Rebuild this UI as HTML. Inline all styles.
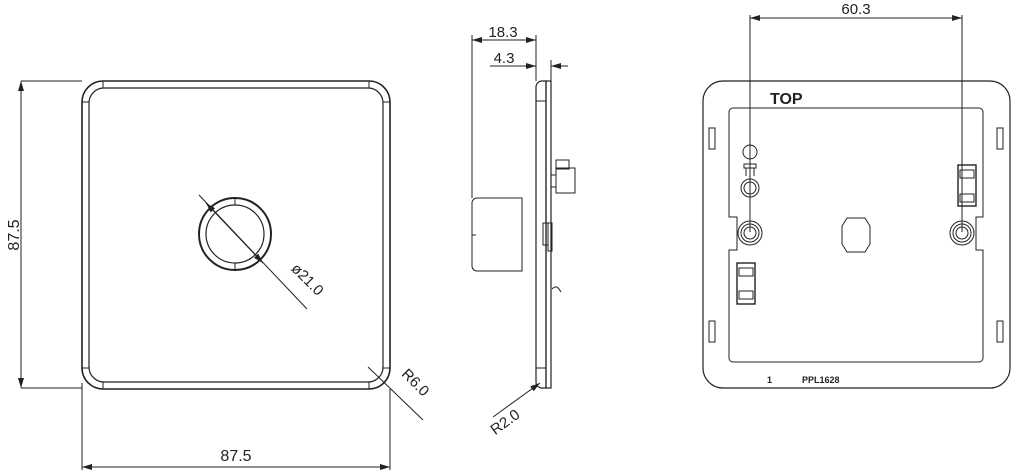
<!DOCTYPE html>
<html><head><meta charset="utf-8"><style>
html,body{margin:0;padding:0;background:#fff;width:1018px;height:472px;overflow:hidden}
text{font-family:"Liberation Sans",sans-serif;fill:#222}
</style></head><body>
<svg width="1018" height="472" viewBox="0 0 1018 472" xmlns="http://www.w3.org/2000/svg">
<defs><marker id="a" viewBox="0 0 10 6" refX="10" refY="3" markerWidth="10" markerHeight="6" orient="auto-start-reverse" markerUnits="userSpaceOnUse"><path d="M0,0L10,3L0,6z" fill="#222"/></marker></defs>
<g stroke="#222" fill="none" stroke-width="1">
<rect x="82" y="81" width="308" height="308" rx="21" stroke-width="1.6"/>
<rect x="89" y="88" width="294" height="294" rx="15" stroke-width="1.2"/>
<path d="M103,81v7M369,81v7M103,382v7M369,382v7M82,102h7M383,102h7M82,368h7M383,368h7"/>
<line x1="21" y1="81" x2="21" y2="388" marker-start="url(#a)" marker-end="url(#a)"/>
<path d="M21,81H82M21,388H82M82,383V470M390,389V470"/>
<line x1="82" y1="467" x2="390" y2="467" marker-start="url(#a)" marker-end="url(#a)"/>
<circle cx="235" cy="234" r="36" stroke-width="2"/>
<circle cx="235" cy="234" r="29" stroke-width="1.2"/>
<path d="M235,198v7M235,263v7"/>
<line x1="199" y1="195" x2="307" y2="309"/>
<line x1="206" y1="203" x2="263" y2="263" marker-start="url(#a)" marker-end="url(#a)"/>
<line x1="368" y1="367" x2="423" y2="420"/>
<path d="M546,81H542a6,6 0 0 0 -6,6V382a6,6 0 0 0 6,6H546z" stroke-width="1.2"/>
<rect x="546" y="81" width="5" height="307" stroke-width="1.2"/>
<path d="M536,101h10M536,368h10"/>
<path d="M477,198H522V271H477a5,5 0 0 1 -5,-5V203a5,5 0 0 1 5,-5z"/>
<path d="M472,235h4"/>
<rect x="556" y="168" width="19" height="25"/><rect x="556" y="160" width="13" height="9"/>
<rect x="551" y="175" width="5" height="12"/><rect x="543" y="223" width="5" height="22"/><rect x="548" y="223" width="4" height="28"/>
<path d="M552,289c4,-4 6,-2 9,3"/>
<path d="M472,35V198M536,35V81M551,60V81"/>
<line x1="472" y1="40" x2="536" y2="40" marker-start="url(#a)" marker-end="url(#a)"/>
<line x1="490" y1="66" x2="536" y2="66" marker-end="url(#a)"/>
<line x1="568" y1="66" x2="551" y2="66" marker-end="url(#a)"/>
<line x1="493" y1="417" x2="540" y2="383" marker-end="url(#a)"/>
<rect x="703" y="81" width="307" height="307" rx="20" stroke-width="1.2"/>
<path d="M733,108H979a4,4 0 0 1 4,4V217H976V250H983V358a4,4 0 0 1 -4,4H733a4,4 0 0 1 -4,-4V250H737V217H729V112a4,4 0 0 1 4,-4z"/>
<rect x="709" y="128" width="6" height="21"/><rect x="709" y="321" width="6" height="21"/>
<rect x="997" y="128" width="6" height="21"/><rect x="997" y="321" width="6" height="21"/>
<circle cx="750" cy="233" r="12"/><circle cx="750" cy="233" r="9"/><circle cx="750" cy="233" r="6"/>
<circle cx="962" cy="233" r="12"/><circle cx="962" cy="233" r="9"/><circle cx="962" cy="233" r="6"/>
<path d="M847,218h18l5,8v18l-5,8h-18l-5,-8v-18z"/>
<rect x="958" y="165" width="18" height="41" stroke-width="1.4"/><rect x="960" y="170" width="14" height="8"/><rect x="960" y="194" width="14" height="8"/>
<rect x="737" y="263" width="18" height="41" stroke-width="1.4"/><rect x="739" y="268" width="14" height="8"/><rect x="739" y="291" width="14" height="8"/>
<circle cx="750" cy="152" r="7"/><path d="M744,164h12v4h-12z M746,168v8M754,168v8"/>
<circle cx="750" cy="188" r="9"/><circle cx="750" cy="188" r="6"/>
<path d="M750,15V232M962,15V232"/>
<line x1="750" y1="18" x2="962" y2="18" marker-start="url(#a)" marker-end="url(#a)"/>
</g>
<text x="15" y="235" font-size="16" text-anchor="middle" transform="rotate(-90 15 235)" dominant-baseline="middle">87.5</text>
<text x="236" y="461" font-size="16" text-anchor="middle">87.5</text>
<text x="304" y="283" font-size="15" text-anchor="middle" transform="rotate(45 304 283)">ø21.0</text>
<text x="412" y="386" font-size="15" text-anchor="middle" transform="rotate(45 412 386)">R6.0</text>
<text x="503" y="37" font-size="15" text-anchor="middle">18.3</text>
<text x="504" y="63" font-size="15" text-anchor="middle">4.3</text>
<text x="508" y="426" font-size="15" text-anchor="middle" transform="rotate(-36 508 426)">R2.0</text>
<text x="856" y="14" font-size="15" text-anchor="middle">60.3</text>
<text x="770" y="104" font-size="16" font-weight="bold">TOP</text>
<text x="767" y="383" font-size="9" font-weight="bold">1</text>
<text x="802" y="383" font-size="9" font-weight="bold">PPL1628</text>
</svg>
</body></html>
